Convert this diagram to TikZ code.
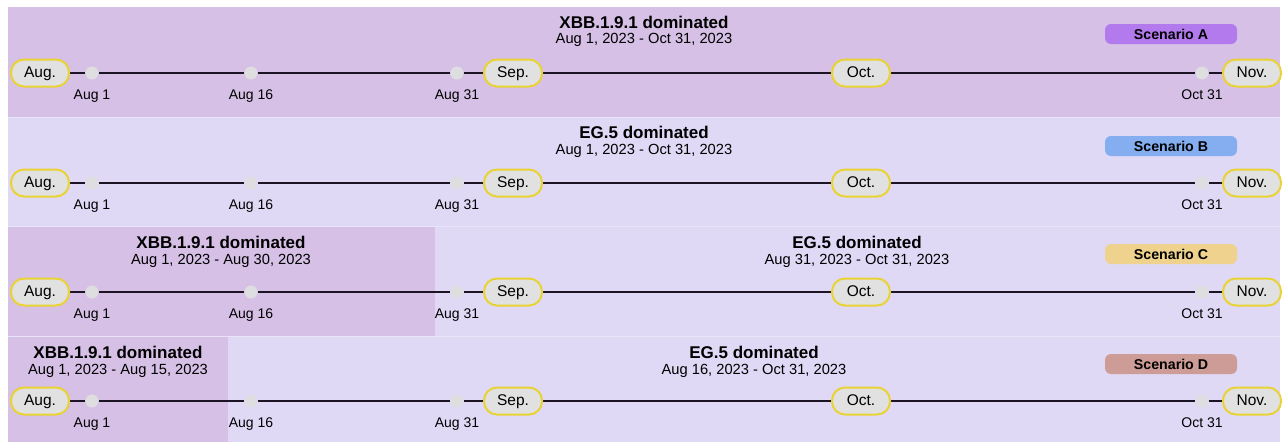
\documentclass[tikz,border=0pt]{standalone}
\usepackage{fontspec}
\setmainfont{Liberation Sans}
\definecolor{xbbbg}{RGB}{214,192,230}
\definecolor{egbg}{RGB}{223,217,246}
\definecolor{rowsep}{RGB}{232,228,250}
\definecolor{monthfill}{RGB}{225,225,225}
\definecolor{monthedge}{RGB}{233,211,52}
\definecolor{dotfill}{RGB}{222,222,224}
\definecolor{tline}{RGB}{28,20,36}
\definecolor{scA}{RGB}{178,122,236}
\definecolor{scB}{RGB}{132,174,240}
\definecolor{scC}{RGB}{238,210,142}
\definecolor{scD}{RGB}{206,156,150}
\pgfdeclarelayer{panels}
\pgfdeclarelayer{links}
\pgfsetlayers{panels,links,main}
\tikzset{
  month/.style={draw=monthedge, line width=2pt, fill=monthfill, rounded corners=13pt,
    minimum width=58pt, minimum height=27pt, inner sep=0pt, text height=11pt, text depth=2.5pt,
    font=\fontsize{15.5}{17}\selectfont},
  tdot/.style={circle, fill=dotfill, minimum size=13pt, inner sep=0pt},
  datelbl/.style={font=\fontsize{14}{16}\selectfont, inner sep=0pt, text height=10pt, text depth=3pt},
  ttl/.style={font=\bfseries\fontsize{17}{19}\selectfont, inner sep=0pt},
  subttl/.style={font=\fontsize{14.7}{17}\selectfont, inner sep=0pt},
  badge/.style={rounded corners=6pt, minimum width=132pt, minimum height=20pt, inner sep=0pt,
    font=\bfseries\fontsize{14.2}{16}\selectfont},
  tl/.style={draw=tline, line width=1.8pt}
}
% one timeline row: #1 = name prefix, #2 = top edge of the row
\newcommand\tlrow[2]{%
  \node[month] (#1aug) at (40,{#2+66}) {Aug.};
  \node[tdot] (#1d1) at (92,{#2+66}) {};
  \node[tdot] (#1d16) at (251,{#2+66}) {};
  \node[tdot] (#1d31) at (457,{#2+66}) {};
  \node[month] (#1sep) at (513,{#2+66}) {Sep.};
  \node[month] (#1oct) at (861,{#2+66}) {Oct.};
  \node[tdot] (#1o31) at (1202,{#2+66}) {};
  \node[month] (#1nov) at (1252,{#2+66}) {Nov.};
  \begin{pgfonlayer}{links}
    \draw[tl] (#1aug) -- (#1d1) -- (#1d16) -- (#1d31) -- (#1sep) -- (#1oct) -- (#1o31) -- (#1nov);
  \end{pgfonlayer}
  \node[datelbl] (#1l1) at (92,{#2+89}) {Aug 1};
  \node[datelbl] (#1l16) at (251,{#2+89}) {Aug 16};
  \node[datelbl] (#1l31) at (457,{#2+89}) {Aug 31};
  \node[datelbl] (#1lo31) at (1202,{#2+89}) {Oct 31};
}
\begin{document}
\begin{tikzpicture}[x=1pt,y=-1pt]
\useasboundingbox (0,0) rectangle (1286,442);
\begin{pgfonlayer}{panels}
\fill[white] (0,0) rectangle (1286,442);
% row backgrounds
\fill[xbbbg] (8,7) rectangle (1280,117);
\fill[egbg] (8,117) rectangle (1280,226);
\fill[xbbbg] (8,226) rectangle (435,336);
\fill[egbg] (435,226) rectangle (1280,336);
\fill[xbbbg] (8,336) rectangle (228,442);
\fill[egbg] (228,336) rectangle (1280,442);
\draw[rowsep, line width=0.8pt] (8,117) -- (1280,117) (8,226) -- (1280,226) (8,336) -- (1280,336);
\end{pgfonlayer}

% Scenario A
\node[ttl] (ta) at (644,22) {XBB.1.9.1 dominated};
\node[subttl] (sa) at (644,40) {Aug 1, 2023 - Oct 31, 2023};
\node[badge, fill=scA] (ba) at (1171,34) {Scenario A};
\tlrow{a}{7}

% Scenario B
\node[ttl] (tb) at (644,132) {EG.5 dominated};
\node[subttl] (sb) at (644,150.5) {Aug 1, 2023 - Oct 31, 2023};
\node[badge, fill=scB] (bb) at (1171,146) {Scenario B};
\tlrow{b}{117}

% Scenario C
\node[ttl] (tc1) at (221,242) {XBB.1.9.1 dominated};
\node[subttl] (sc1) at (221,260.5) {Aug 1, 2023 - Aug 30, 2023};
\node[ttl] (tc2) at (857,242) {EG.5 dominated};
\node[subttl] (sc2) at (857,260.5) {Aug 31, 2023 - Oct 31, 2023};
\node[badge, fill=scC] (bc) at (1171,254) {Scenario C};
\tlrow{c}{226}

% Scenario D
\node[ttl] (td1) at (118,352) {XBB.1.9.1 dominated};
\node[subttl] (sd1) at (118,370.5) {Aug 1, 2023 - Aug 15, 2023};
\node[ttl] (td2) at (754,352) {EG.5 dominated};
\node[subttl] (sd2) at (754,370.5) {Aug 16, 2023 - Oct 31, 2023};
\node[badge, fill=scD] (bd) at (1171,364) {Scenario D};
\tlrow{d}{335}
\end{tikzpicture}
\end{document}
